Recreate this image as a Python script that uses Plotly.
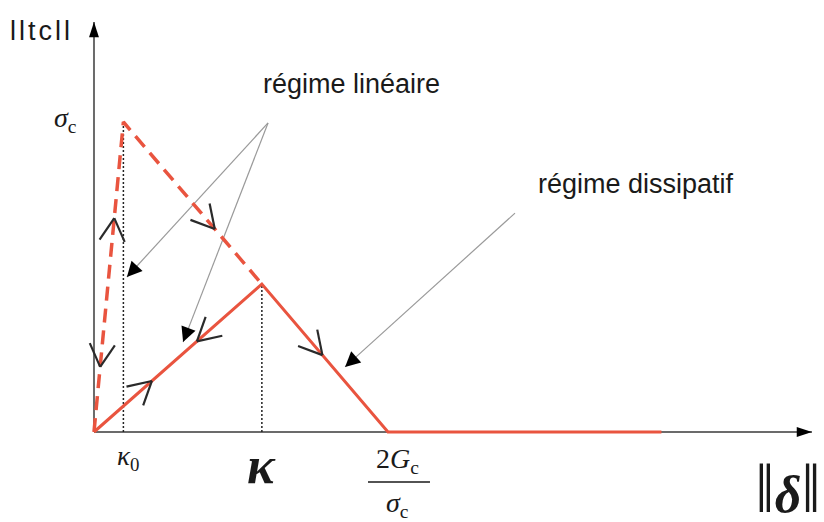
import math
import plotly.graph_objects as go

# ---------------- data (delta normalised by 2Gc/sigma_c, traction by sigma_c) -------------
kappa0 = 0.10
kappa = 0.571
delta_c = 1.0          # 2Gc / sigma_c
delta_max = 1.93
sigma_c = 1.0
T_kappa = 0.477

dash_delta = [0.0, kappa0, kappa]
dash_T = [0.0, sigma_c, T_kappa]
solid_delta = [0.0, kappa, delta_c, delta_max]
solid_T = [0.0, T_kappa, 0.0, 0.0]

axis_x_end = 2.442
axis_y_end = 1.3226

# annotation pointer lines (start -> end)
ptr_x0 = [0.592, 0.592, 1.432]
ptr_y0 = [0.997, 0.997, 0.706]
ptr_x1 = [0.112, 0.303, 0.854]
ptr_y1 = [0.500, 0.290, 0.210]

# direction chevrons: segment, position along it, sense
segments = {
    "dash_rise": ((0.0, 0.0), (kappa0, sigma_c)),
    "dash_fall": ((kappa0, sigma_c), (kappa, T_kappa)),
    "solid_rise": ((0.0, 0.0), (kappa, T_kappa)),
    "solid_fall": ((kappa, T_kappa), (delta_c, 0.0)),
}
chev_seg = ["dash_rise", "dash_rise", "dash_fall", "solid_rise", "solid_rise", "solid_fall"]
chev_t = [0.69, 0.21, 0.66, 0.345, 0.613, 0.48]
chev_dir = [1, -1, 1, 1, -1, 1]

# ---------------- layout geometry ----------------
W, H = 824, 522
xr = [-0.3197, 2.4830]
yr = [-0.2903, 1.3935]
ppx = W / (xr[1] - xr[0])
ppy = H / (yr[1] - yr[0])

RED = "#E9543F"
INK = "#1a1a1a"
SANS = "Liberation Sans, Arial, sans-serif"
SERIF = "Liberation Serif, Times New Roman, serif"


def screen_dir(x0, y0, x1, y1):
    dx = (x1 - x0) * ppx
    dy = -(y1 - y0) * ppy
    n = math.hypot(dx, dy)
    return dx / n, dy / n


fig = go.Figure()

# axes
fig.add_trace(go.Scatter(x=[0, axis_x_end], y=[0, 0], mode="lines",
                         line=dict(color="#6b6b6b", width=2), hoverinfo="skip"))
fig.add_trace(go.Scatter(x=[0, 0], y=[0, axis_y_end], mode="lines",
                         line=dict(color="#6b6b6b", width=2), hoverinfo="skip"))
fig.add_trace(go.Scatter(x=[axis_x_end, 0], y=[0, axis_y_end], mode="markers",
                         marker=dict(symbol="arrow", size=16, color="black", angle=[90, 0],
                                     line=dict(width=0)), hoverinfo="skip"))

# dotted guides
for xv, yv in [(kappa0, sigma_c), (kappa, T_kappa)]:
    fig.add_trace(go.Scatter(x=[xv, xv], y=[0, yv], mode="lines",
                             line=dict(color="#222", width=1.5, dash="2px,2px"), hoverinfo="skip"))

# pointer lines
for i in range(len(ptr_x0)):
    fig.add_trace(go.Scatter(x=[ptr_x0[i], ptr_x1[i]], y=[ptr_y0[i], ptr_y1[i]], mode="lines",
                             line=dict(color="#9a9a9a", width=1.2), hoverinfo="skip"))

# red curves
fig.add_trace(go.Scatter(x=dash_delta, y=dash_T, mode="lines",
                         line=dict(color=RED, width=3.5, dash="14px,8px"), hoverinfo="skip"))
fig.add_trace(go.Scatter(x=solid_delta, y=solid_T, mode="lines",
                         line=dict(color=RED, width=3), hoverinfo="skip"))

# chevrons: each drawn as two short line markers meeting at the apex
ARM = 26.0          # arm length in px
HALF = math.radians(29)
arm_x, arm_y, arm_ang = [], [], []
for s, t, d in zip(chev_seg, chev_t, chev_dir):
    (x0, y0), (x1, y1) = segments[s]
    ax_ = x0 + t * (x1 - x0)
    ay_ = y0 + t * (y1 - y0)
    ux, uy = screen_dir(x0, y0, x1, y1)
    bx, by = -ux * d, -uy * d   # backwards direction in screen coords
    for sgn in (1, -1):
        c, sn = math.cos(sgn * HALF), math.sin(sgn * HALF)
        rx, ry = bx * c - by * sn, bx * sn + by * c
        arm_x.append(ax_ + rx * ARM / 2 / ppx)
        arm_y.append(ay_ - ry * ARM / 2 / ppy)
        arm_ang.append(math.degrees(math.atan2(rx, -ry)))
# plotly's line-ns symbol is 1.4 * size long
fig.add_trace(go.Scatter(x=arm_x, y=arm_y, mode="markers", hoverinfo="skip",
                         marker=dict(symbol="line-ns", size=ARM / 1.4, angle=arm_ang,
                                     line=dict(color="#2a2a2a", width=2.2))))

annotations = []
tiny = dict(size=1, color="rgba(0,0,0,0)")

# pointer heads
P_AW, P_AS = 1.0, 3.0
for i in range(len(ptr_x0)):
    ux, uy = screen_dir(ptr_x0[i], ptr_y0[i], ptr_x1[i], ptr_y1[i])
    L = 1.3 * P_AW * P_AS + 3
    annotations.append(dict(x=ptr_x1[i], y=ptr_y1[i], xref="x", yref="y", text=" ",
                            font=tiny, borderpad=0, borderwidth=0,
                            showarrow=True, arrowhead=2, arrowsize=P_AS, arrowwidth=P_AW,
                            arrowcolor="black", ax=-L * ux, ay=-L * uy))

# text labels
annotations += [
    dict(x=0, y=axis_y_end, xref="x", yref="y",
         text="<span style='letter-spacing:3px'>lltcll</span>", showarrow=False,
         xanchor="center", yanchor="middle", xshift=-52, yshift=-9,
         font=dict(family=SANS, size=27, color=INK)),
    dict(x=0, y=sigma_c, xref="x", yref="y", text="<i>σ</i><sub>c</sub>", showarrow=False,
         xanchor="right", yanchor="middle", xshift=-15, yshift=2,
         font=dict(family=SERIF, size=28, color=INK)),
    dict(x=kappa0, y=0, xref="x", yref="y", text="<i>κ</i><sub>0</sub>", showarrow=False,
         xanchor="center", yanchor="middle", xshift=5, yshift=-26,
         font=dict(family=SERIF, size=27, color=INK)),
    dict(x=kappa, y=0, xref="x", yref="y", text="<b><i>κ</i></b>", showarrow=False,
         xanchor="center", yanchor="middle", xshift=0, yshift=-33,
         font=dict(family=SERIF, size=52, color=INK)),
    dict(x=delta_c, y=0, xref="x", yref="y", text="2<i>G</i><sub>c</sub>", showarrow=False,
         xanchor="center", yanchor="middle", xshift=10, yshift=-28,
         font=dict(family=SERIF, size=28, color=INK)),
    dict(x=delta_c, y=0, xref="x", yref="y", text="<i>σ</i><sub>c</sub>", showarrow=False,
         xanchor="center", yanchor="middle", xshift=10, yshift=-72,
         font=dict(family=SERIF, size=28, color=INK)),
    dict(x=axis_x_end, y=0, xref="x", yref="y",
         text="<span style='font-size:70px'>‖</span><b><i>δ</i></b><span style='font-size:70px'>‖</span>",
         showarrow=False, xanchor="center", yanchor="middle", xshift=-24, yshift=-56,
         font=dict(family=SERIF, size=52, color=INK)),
    dict(x=351 / W, y=1 - 84 / H, xref="paper", yref="paper", text="régime linéaire",
         showarrow=False, xanchor="center", yanchor="middle",
         font=dict(family=SANS, size=27, color=INK)),
    dict(x=636 / W, y=1 - 184 / H, xref="paper", yref="paper", text="régime dissipatif",
         showarrow=False, xanchor="center", yanchor="middle",
         font=dict(family=SANS, size=27, color=INK)),
]

shapes = [
    dict(type="line", xref="x", yref="y", xsizemode="pixel", ysizemode="pixel",
         xanchor=delta_c, yanchor=0, x0=-20, x1=42, y0=-50, y1=-50,
         line=dict(color=INK, width=1.5)),
]

fig.update_layout(
    width=W, height=H,
    margin=dict(l=0, r=0, t=0, b=0),
    paper_bgcolor="white", plot_bgcolor="white",
    showlegend=False,
    xaxis=dict(range=xr, visible=False, fixedrange=True),
    yaxis=dict(range=yr, visible=False, fixedrange=True),
    annotations=annotations,
    shapes=shapes,
)

fig.write_html("out.html", config={"displayModeBar": False},
               post_script="document.body.style.margin='0';document.body.style.overflow='hidden';")
